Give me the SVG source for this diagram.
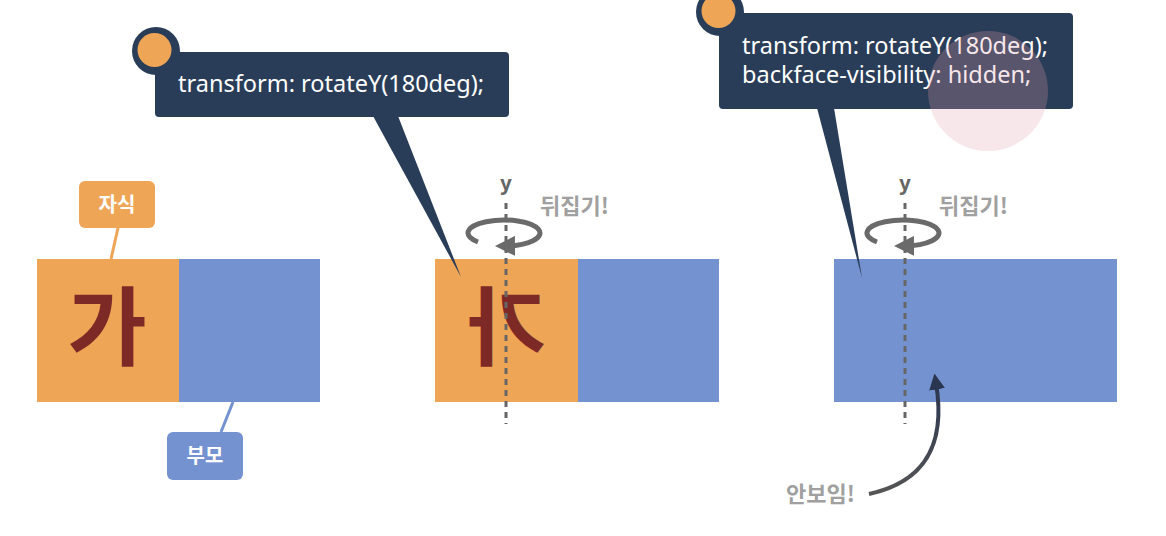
<svg xmlns="http://www.w3.org/2000/svg" width="1166" height="536" viewBox="0 0 1166 536">
<defs>
<style>
.orange{fill:#eea556}
.blue{fill:#7492d0}
.navy{fill:#2a3d58}
.code{font-family:"Noto Sans","Noto Sans CJK KR",sans-serif;font-size:23.5px;fill:#ffffff}
.lbl{font-family:"Noto Sans CJK KR",sans-serif;font-size:20px;font-weight:bold;fill:#ffffff}
.gray{font-family:"Noto Sans CJK KR",sans-serif;font-size:22px;font-weight:bold;fill:#a0a0a0}
.yl{font-family:"Noto Sans","Noto Sans CJK KR",sans-serif;font-size:20px;font-weight:bold;fill:#666666}
.big{font-family:"Noto Sans CJK KR",sans-serif;font-size:86px;font-weight:bold;fill:#7d2a27}
.axis{stroke:#666666;stroke-width:3;stroke-dasharray:6 5;fill:none}
.rot{stroke:#6a6a6a;stroke-width:5;fill:none}
</style>
<marker id="ah" viewBox="0 0 10 10" refX="5" refY="5" markerWidth="4" markerHeight="4" orient="auto" markerUnits="strokeWidth">
<path d="M0,0 L10,5 L0,10 z" fill="#6a6a6a"/>
</marker>
<marker id="ah2" viewBox="0 0 10 10" refX="4" refY="5" markerWidth="4" markerHeight="4" orient="auto" markerUnits="strokeWidth">
<path d="M0,0 L10,5 L0,10 z" fill="#2a3550"/>
</marker>
<linearGradient id="cg" x1="0" y1="1" x2="0" y2="0">
<stop offset="0" stop-color="#555555"/>
<stop offset="1" stop-color="#2a3550"/>
</linearGradient>
</defs>

<g id="panel1">
<rect class="orange" x="37" y="259" width="142" height="143"/>
<rect class="blue" x="179" y="259" width="141" height="143"/>
<text class="big" x="107" y="359" text-anchor="middle">가</text>
</g>

<g id="label-child">
<rect class="orange" x="79" y="181" width="76" height="47" rx="6"/>
<text class="lbl" x="117" y="212" text-anchor="middle">자식</text>
</g>

<g id="label-parent">
<rect class="blue" x="167" y="432" width="76" height="48" rx="6"/>
<text class="lbl" x="205" y="463" text-anchor="middle">부모</text>
</g>

<g id="panel2">
<rect class="orange" x="435" y="259" width="143" height="143"/>
<rect class="blue" x="578" y="259" width="141" height="143"/>
<text class="big" x="0" y="359" text-anchor="middle" transform="translate(507,0) scale(-1,1)">가</text>
<line class="axis" x1="506" y1="203" x2="506" y2="424"/>
<text class="yl" x="506" y="190" text-anchor="middle">y</text>
<path class="rot" d="M478 242 A 36 13 0 1 1 505 246" marker-end="url(#ah)"/>
<text class="gray" x="540" y="214">뒤집기!</text>
</g>

<g id="panel3">
<rect class="blue" x="834" y="259" width="283" height="143"/>
<line class="axis" x1="905" y1="203" x2="905" y2="424"/>
<text class="yl" x="905" y="190" text-anchor="middle">y</text>
<path class="rot" d="M877 242 A 36 13 0 1 1 904 246" marker-end="url(#ah)"/>
<text class="gray" x="939" y="214">뒤집기!</text>
<text class="gray" x="786" y="502" font-size="23.5px">안보임!</text>
</g>

<g id="connectors">
<line x1="118" y1="228" x2="111" y2="259" stroke="#eea556" stroke-width="3"/>
<line x1="233" y1="402" x2="221" y2="432" stroke="#7492d0" stroke-width="3"/>
<path d="M869 494 C 915 484, 948 455, 936 383" stroke="url(#cg)" stroke-width="4" fill="none" marker-end="url(#ah2)"/>
</g>

<g id="callout1">
<path class="navy" d="M373 116 L398 116 L461 277 z"/>
<rect class="navy" x="155" y="52" width="354" height="65" rx="4"/>
<circle class="navy" cx="156" cy="51" r="24"/>
<circle class="orange" cx="154.5" cy="50" r="17"/>
<text class="code" x="178" y="92">transform: rotateY(180deg);</text>
</g>

<g id="callout2">
<path class="navy" d="M817 108 L834 108 L862 278 z"/>
<rect class="navy" x="719" y="13" width="354" height="96" rx="4"/>
<circle class="navy" cx="720" cy="12" r="24"/>
<circle class="orange" cx="718.5" cy="11" r="17"/>
<text class="code" x="742" y="54">transform: rotateY(180deg);</text>
<text class="code" x="742" y="83">backface-visibility: hidden;</text>
</g>

<circle id="highlight" cx="988" cy="91" r="60" fill="#e4a0aa" opacity="0.25"/>
</svg>
